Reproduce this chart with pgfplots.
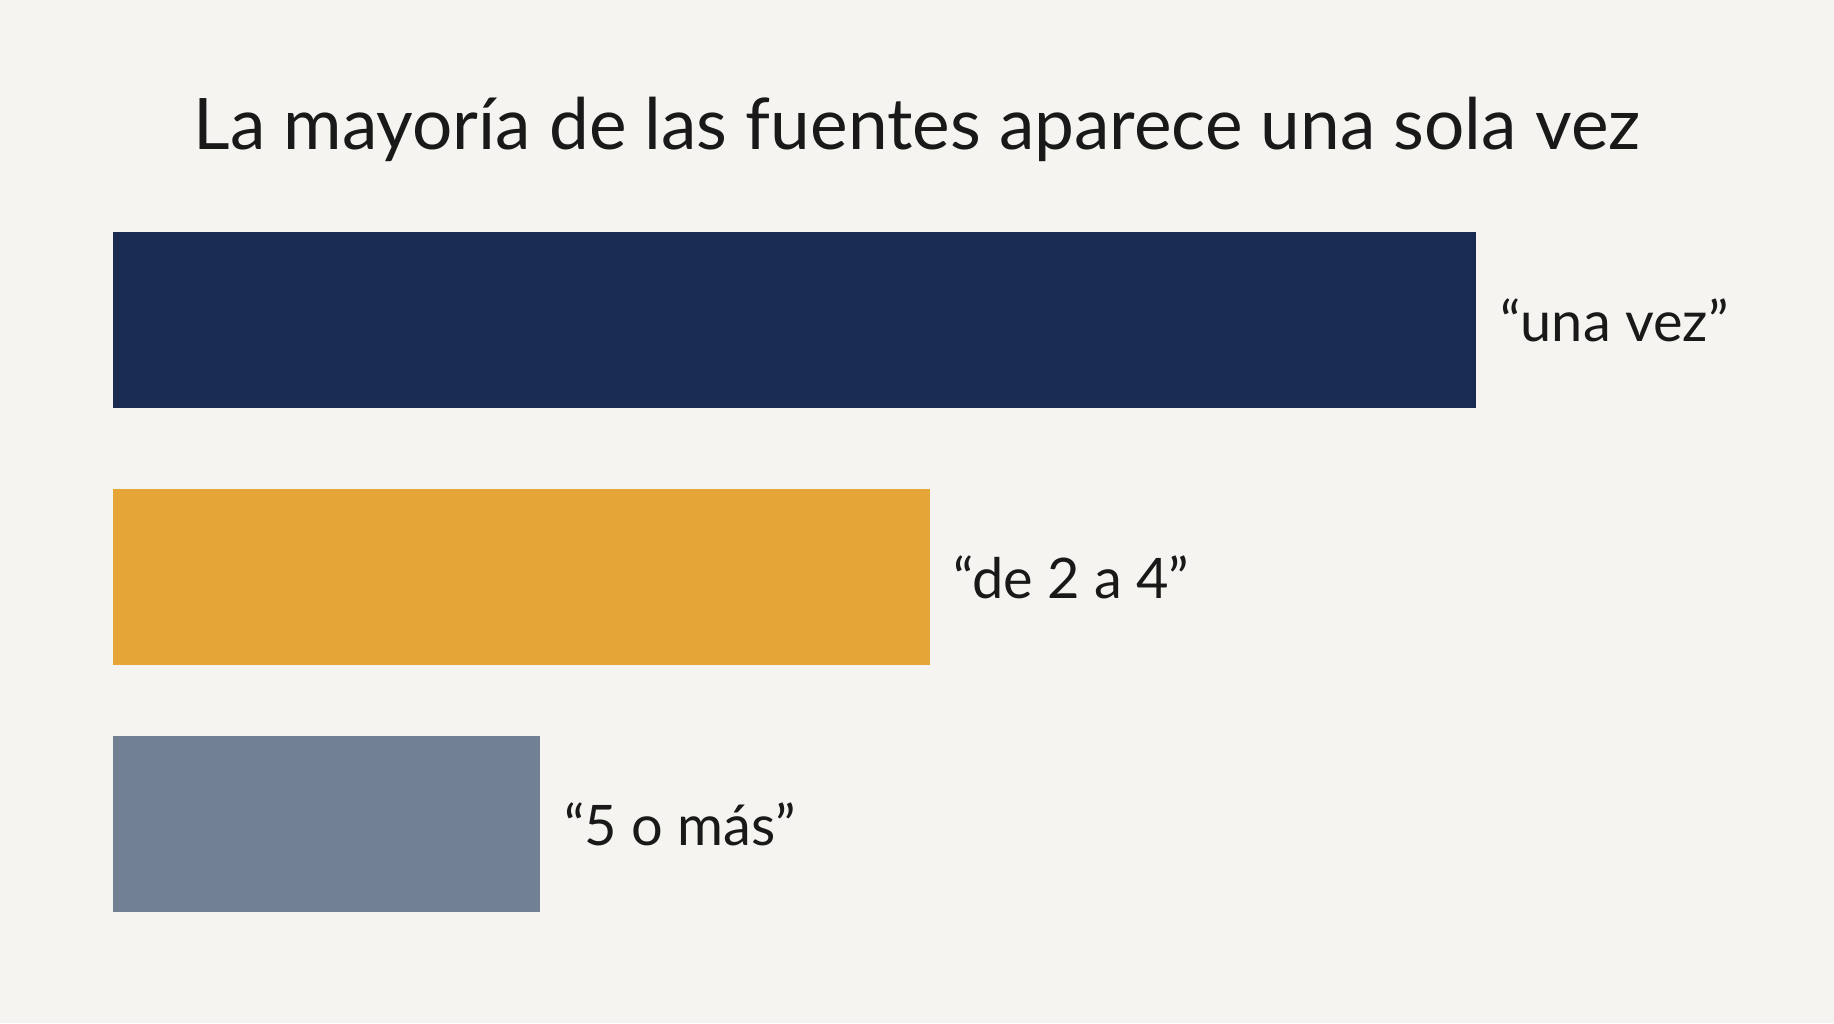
\documentclass[border=0pt]{standalone}
\usepackage{pgfplots}
\pgfplotsset{compat=1.18}
\usepackage{fontspec}
\setmainfont{Lato}
\definecolor{bgcol}{HTML}{F5F4F0}
\definecolor{navy}{HTML}{1A2B52}
\definecolor{gold}{HTML}{E5A537}
\definecolor{slate}{HTML}{718093}

\begin{document}
\begin{tikzpicture}
  % background sets the page size (1568 x 875 units of 0.01cm)
  \fill[bgcol] (0,0) rectangle (15.68cm,8.75cm);
  \node[font=\fontsize{17.3}{21}\selectfont, text=black!90] at (7.84cm,7.64cm)
    {La mayoría de las fuentes aparece una sola vez};

  \begin{axis}[
      at={(0.97cm,0.6275cm)}, anchor=south west,
      scale only axis,
      width=11.65cm, height=6.465cm,
      xbar, bar shift=0pt, bar width=1.51cm,
      xmin=0, xmax=100, ymin=-0.5, ymax=2.5,
      hide axis, clip=false,
      nodes near coords,
      point meta=explicit symbolic,
      every node near coord/.append style={
        anchor=west, inner sep=0pt, xshift=0.2cm,
        font=\fontsize{13.6}{16}\selectfont, text=black!90},
    ]
    % una vez
    \addplot[fill=navy, draw=none] table[meta=label] {
      x y label
      100 2 {“una~vez”}
    };
    % de 2 a 4
    \addplot[fill=gold, draw=none] table[meta=label] {
      x y label
      59.9 0.98 {“de~2~a~4”}
    };
    % 5 o mas
    \addplot[fill=slate, draw=none] table[meta=label] {
      x y label
      31.3 0 {“5~o~más”}
    };
  \end{axis}
\end{tikzpicture}
\end{document}
